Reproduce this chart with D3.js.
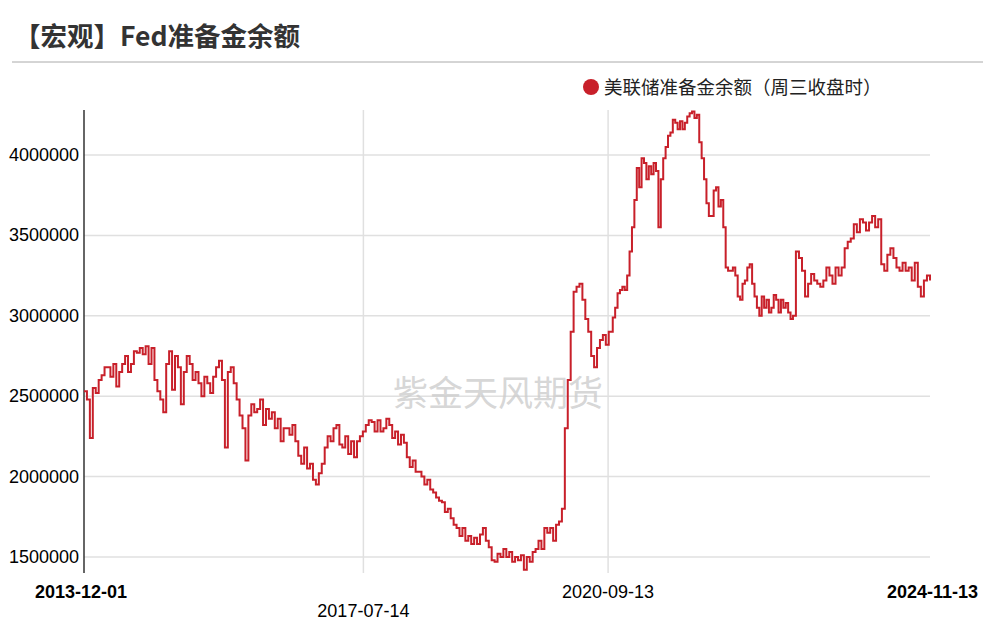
<!DOCTYPE html>
<html><head><meta charset="utf-8">
<script src="https://cdn.jsdelivr.net/npm/d3@7/dist/d3.min.js"></script>
<style>body{margin:0;background:#fff;font-family:"Noto Sans CJK SC",Arial,sans-serif}</style>
</head><body><svg id="c" width="989" height="631"></svg>
<script>
const title = "【宏观】Fed准备金余额";
const seriesName = "美联储准备金余额（周三收盘时）";
const watermark = "紫金天风期货";
const startDate = "2013-12-01", endDate = "2024-11-13";
const xTickLabels = ["2013-12-01","2017-07-14","2020-09-13","2024-11-13"];
const yTicks = [1500000,2000000,2500000,3000000,3500000,4000000];
// reserves in units of 万 (10,000), four observation periods, evenly spaced within each
const periods = [["2013-12-01","2017-09-05"],["2017-09-19","2020-09-16"],["2020-10-05","2023-02-04"],["2023-02-18","2024-11-13"]];
const values1 = [253,248,224,255,252,260,263,268,268,262,270,256,265,270,275,265,270,278,277,280,276,281,270,280,260,253,248,240,270,278,254,275,268,245,265,275,270,260,265,258,250,262,258,252,262,268,272,260,218,265,268,258,248,238,230,210,238,245,240,242,248,232,242,236,240,230,236,222,230,230,226,232,222,213,208,218,205,208,198,195,202,208,218,225,222,230,232,220,218,225,214,222,212,222,225,228,232,235,234,228];
const values2 = [235,228,230,236,232,224,228,220,226,221,212,206,210,203,203,200,195,198,192,190,187,185,184,178,180,174,170,168,163,168,160,163,158,162,158,164,168,160,156,148,147,152,150,155,150,153,147,150,148,151,142,150,147,153,155,160,155,168,165,168,160,170,172,180,230,260,290,315,318,320,310,298,290,275,268,280,285,288,282,290];
const values3 = [299,305,314,316,318,316,325,340,355,372,392,380,398,395,385,393,388,395,390,355,385,398,405,412,414,422,420,416,421,416,420,424,426,427,423,425,408,398,385,370,362,362,378,380,368,372,355,330,328,328,330,325,312,310,320,322,330,332,320,312,305,300,312,305,310,302,305,313,310,302,310,305,308,302,298,300];
const values4 = [340,336,328,312,320,326,322,320,318,322,330,325,320,330,325,330,342,346,348,357,352,360,358,353,358,362,355,360,332,328,338,342,336,330,328,333,328,330,322,333,318,312,322,325,322];

const svg = d3.select("#c");
const m = {l:84, r:930, t:110, b:573};
const t0 = new Date(startDate), t1 = new Date(endDate);
const pts = [];
[values1,values2,values3,values4].forEach((vals,k)=>{
  const a = new Date(periods[k][0]), b = new Date(periods[k][1]);
  vals.forEach((v,i)=>pts.push({d:new Date(+a + (b-a)*i/(vals.length-1)), v}));
});
const x = d3.scaleTime().domain([t0,t1]).range([m.l,m.r]);
const y = d3.scaleLinear().domain([1400000,4280000]).range([m.b,m.t]);

svg.append("text").attr("x",14).attr("y",46).attr("font-size",26.5).attr("font-weight","bold").attr("fill","#333").text(title);
svg.append("line").attr("x1",12).attr("x2",983).attr("y1",62).attr("y2",62).attr("stroke","#aaa");

const gy = svg.append("g");
yTicks.forEach(t=>{
  gy.append("line").attr("x1",m.l).attr("x2",m.r).attr("y1",y(t)).attr("y2",y(t)).attr("stroke","#e0e0e0").attr("stroke-width",1.5);
  gy.append("text").attr("x",79).attr("y",y(t)+6).attr("text-anchor","end").attr("font-size",18).attr("font-family","Arial,Liberation Sans").attr("fill","#000").text(t);
});
xTickLabels.forEach((s,i)=>{
  const d = new Date(s), px = x(d);
  if(i>0 && i<3) svg.append("line").attr("x1",px).attr("x2",px).attr("y1",m.t).attr("y2",m.b).attr("stroke","#e0e0e0").attr("stroke-width",1.5);
  const anchor = i==0?"start":i==3?"end":"middle";
  const tx = i==0?35:i==3?978:px;
  const ty = i==1?617:598;
  svg.append("text").attr("x",tx).attr("y",ty).attr("text-anchor",anchor).attr("font-size",18)
    .attr("font-family","Arial,Liberation Sans").attr("font-weight",(i==0||i==3)?"bold":"normal").text(s);
});
svg.append("line").attr("x1",m.l).attr("x2",m.l).attr("y1",m.t).attr("y2",m.b).attr("stroke","#333").attr("stroke-width",1.5);

svg.append("text").attr("x",498).attr("y",406).attr("text-anchor","middle").attr("font-size",35).attr("fill","#ccc").attr("fill-opacity",0.8).text(watermark);

svg.append("path").datum(pts).attr("fill","none").attr("stroke","#c8202a").attr("stroke-width",2)
  .attr("d", d3.line().curve(d3.curveStepAfter).x(p=>x(p.d)).y(p=>y(p.v*10000)));

svg.append("circle").attr("cx",591).attr("cy",87).attr("r",8).attr("fill","#c8202a");
svg.append("text").attr("x",604).attr("y",94).attr("font-size",18.5).attr("fill","#222").text(seriesName);
</script></body></html>
